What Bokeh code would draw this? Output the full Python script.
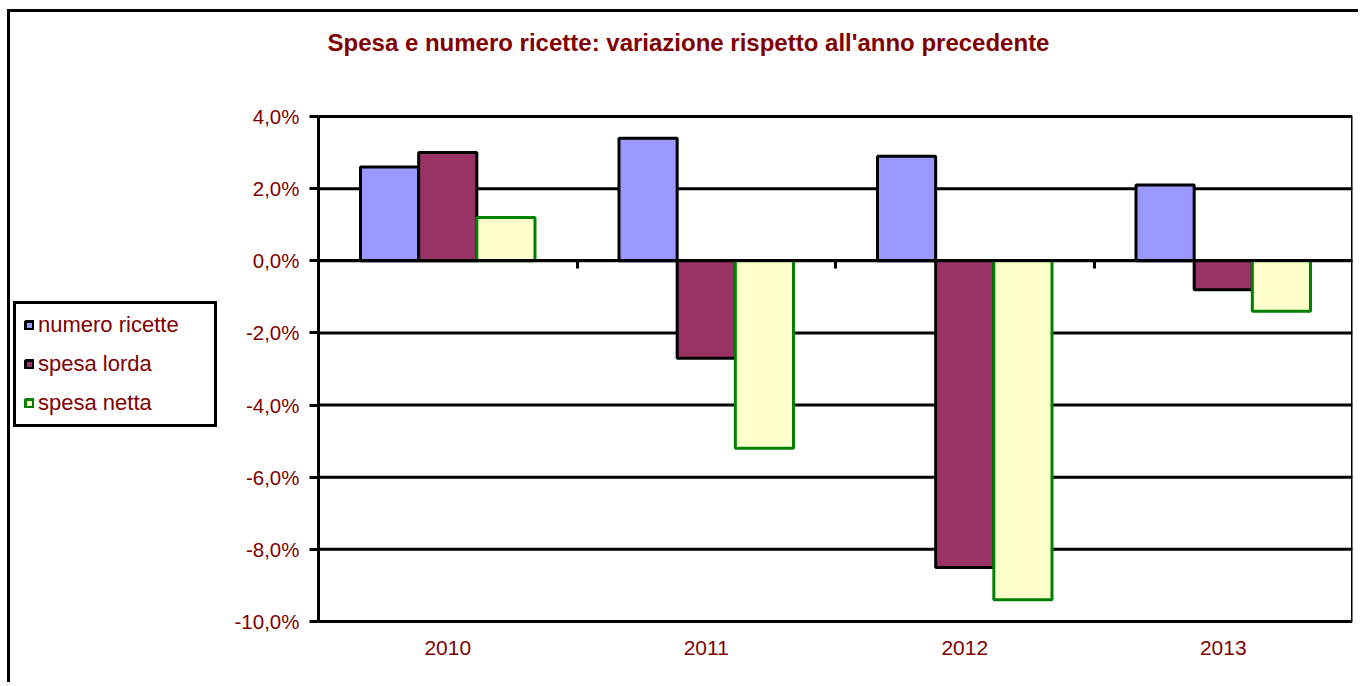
from bokeh.plotting import figure
from bokeh.models import (ColumnDataSource, Range1d, FixedTicker, LinearAxis,
                          CustomJSTickFormatter, Legend, LegendItem, Label)
from bokeh.transform import dodge
from bokeh.embed import file_html
from bokeh.resources import INLINE

# ---- data ----
years = ["2010", "2011", "2012", "2013"]
numero_ricette = [2.6, 3.4, 2.9, 2.1]
spesa_lorda = [3.0, -2.7, -8.5, -0.8]
spesa_netta = [1.2, -5.2, -9.4, -1.4]
series_names = ["numero ricette", "spesa lorda", "spesa netta"]
y_ticks = [-10, -8, -6, -4, -2, 0, 2, 4]
title_text = "Spesa e numero ricette: variazione rispetto all'anno precedente"

TXT = "#800000"
FONT = "Liberation Sans"

# ---- layout constants (pixels) ----
W, H = 1351, 673
PLOT_LEFT, PLOT_W = 308, 1034       # plot area left edge and width inside canvas
PLOT_TOP, PLOT_H = 104, 505         # plot area top and height inside canvas
EXTRA_BOTTOM = 15                   # frame room below plot area for the lowest tick label
n = len(years)
ymin, ymax = min(y_ticks), max(y_ticks)
xppu = PLOT_W / n
yppu = PLOT_H / (ymax - ymin)

xpos = [i + 0.5 for i in range(n)]
src = ColumnDataSource(data=dict(x=xpos, year=years, nr=numero_ricette, sl=spesa_lorda, sn=spesa_netta))

p = figure(width=W, height=H, output_backend="svg", toolbar_location=None,
           x_range=Range1d(-PLOT_LEFT / xppu, n),
           y_range=Range1d(ymin - EXTRA_BOTTOM / yppu, ymax + PLOT_TOP / yppu),
           y_axis_location=None,
           min_border_left=0, min_border_right=W - PLOT_LEFT - PLOT_W, min_border_top=0,
           min_border_bottom=H - PLOT_TOP - PLOT_H - EXTRA_BOTTOM,
           background_fill_color="white", border_fill_color="white")
p.styles = {"margin-left": "7px", "margin-top": "9px",
            "border-left": "3px solid black", "border-top": "3px solid black"}
p.outline_line_color = None
p.grid.grid_line_color = None

# horizontal grid lines across the plot area
p.segment(x0=[0] * len(y_ticks), x1=[n] * len(y_ticks), y0=y_ticks, y1=y_ticks,
          line_color="black", line_width=3)

# y axis at x = 0
yax = LinearAxis(fixed_location=0, bounds=(ymin, ymax), ticker=FixedTicker(ticks=y_ticks),
                 formatter=CustomJSTickFormatter(code="return tick.toFixed(1).replace('.', ',') + '%';"))
yax.axis_line_width = 3
yax.axis_line_color = "black"
yax.major_tick_line_width = 3
yax.major_tick_out = 9
yax.major_tick_in = 0
yax.minor_tick_line_color = None
yax.major_label_standoff = 10
yax.major_label_text_font = FONT
yax.major_label_text_font_size = "20.5px"
yax.major_label_text_color = TXT
p.add_layout(yax, "left")

# right edge of plot area
rax = LinearAxis(fixed_location=n, bounds=(ymin, ymax), ticker=FixedTicker(ticks=[]))
rax.axis_line_width = 3
rax.axis_line_color = "black"
rax.major_tick_line_color = None
rax.minor_tick_line_color = None
p.add_layout(rax, "right")

# x axis (year labels at bottom)
p.xaxis.ticker = FixedTicker(ticks=xpos)
p.xaxis.major_label_overrides = {x: y for x, y in zip(xpos, years)}
p.xaxis.axis_line_color = None
p.xaxis.major_tick_line_color = None
p.xaxis.minor_tick_line_color = None
p.xaxis.major_tick_out = 0
p.xaxis.major_label_standoff = 4
p.xaxis.major_label_text_font = FONT
p.xaxis.major_label_text_font_size = "21px"
p.xaxis.major_label_text_color = TXT

# axis at zero with category boundary ticks (no labels)
bnd = list(range(1, n))
zero_axis = LinearAxis(fixed_location=0, bounds=(0, n), ticker=FixedTicker(ticks=bnd))
zero_axis.major_label_overrides = {b: "" for b in bnd}
zero_axis.axis_line_width = 3
zero_axis.axis_line_color = "black"
zero_axis.major_tick_line_width = 3
zero_axis.major_tick_out = 8
zero_axis.major_tick_in = 0
zero_axis.minor_tick_line_color = None
zero_axis.major_label_standoff = 0
p.add_layout(zero_axis, "below")

bw = 0.225
r1 = p.vbar(x=dodge("x", -bw), top="nr", bottom=0, width=bw, source=src,
            fill_color="#9999FF", line_color="black", line_width=3)
r2 = p.vbar(x=dodge("x", 0), top="sl", bottom=0, width=bw, source=src,
            fill_color="#993366", line_color="black", line_width=3)
r3 = p.vbar(x=dodge("x", bw), top="sn", bottom=0, width=bw, source=src,
            fill_color="#FFFFCC", line_color="#008000", line_width=3)

legend = Legend(items=[LegendItem(label=series_names[0], renderers=[r1]),
                       LegendItem(label=series_names[1], renderers=[r2]),
                       LegendItem(label=series_names[2], renderers=[r3])],
                location=(3, 209), margin=0, padding=8, spacing=13,
                glyph_width=10, glyph_height=10, label_standoff=4, label_width=168,
                label_text_font=FONT, label_text_font_size="22px", label_text_color=TXT,
                border_line_color="black", border_line_width=3, border_line_alpha=1,
                background_fill_color="white", background_fill_alpha=1)
p.add_layout(legend, "center")

# chart title
title = Label(x=(678 - PLOT_LEFT) / xppu, y=ymax + (PLOT_TOP - 30) / yppu, text=title_text,
              text_align="center", text_baseline="middle",
              text_font=FONT, text_font_size="24px", text_font_style="bold", text_color=TXT)
p.add_layout(title)

open("out.html", "w").write(file_html(p, INLINE))
